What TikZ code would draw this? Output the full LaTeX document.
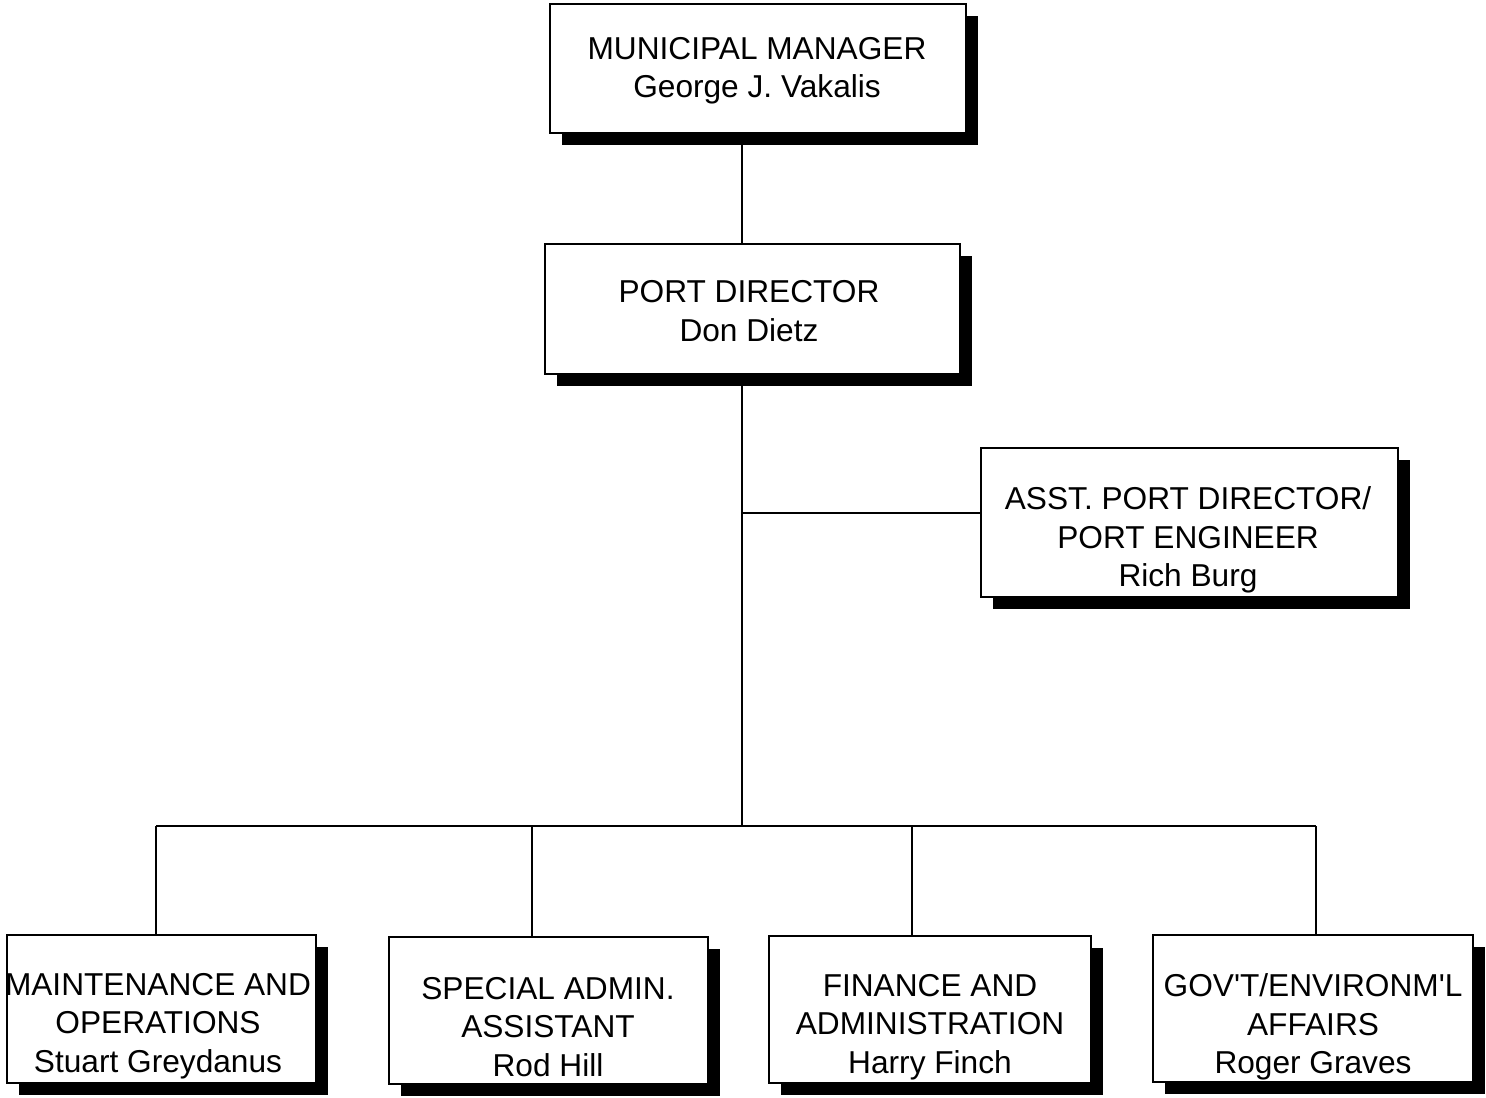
\documentclass[tikz,border=0pt]{standalone}
\usepackage{fontspec}
\setmainfont{Liberation Sans}
\usetikzlibrary{shadows}
\begin{document}
\begin{tikzpicture}[x=0.01cm,y=-0.01cm,
  orgbox/.style={draw=black, fill=white, line width=0.7pt, rectangle, inner sep=0pt,
    drop shadow={shadow xshift=0.12cm, shadow yshift=-0.12cm, opacity=1, fill=black}},
  orgtext/.style={align=center, inner sep=0pt, font=\fontsize{9pt}{10.9pt}\selectfont},
  link/.style={draw=black, line width=0.6pt}]
\useasboundingbox[fill=white] (0,0) rectangle (1486,1097);

% boxes
\node[orgbox, minimum width=4.16cm, minimum height=1.29cm] (mm) at (758,68.5) {};
\node[orgbox, minimum width=4.15cm, minimum height=1.30cm] (pd) at (752.5,309) {};
\node[orgbox, minimum width=4.17cm, minimum height=1.49cm] (apd) at (1189.5,522.5) {};
\node[orgbox, minimum width=3.09cm, minimum height=1.48cm] (mo) at (161.5,1009) {};
\node[orgbox, minimum width=3.19cm, minimum height=1.47cm] (sa) at (548.5,1010.5) {};
\node[orgbox, minimum width=3.22cm, minimum height=1.47cm] (fa) at (930,1009.5) {};
\node[orgbox, minimum width=3.20cm, minimum height=1.47cm] (ga) at (1313,1008.5) {};

% texts
\node[orgtext] (mmT) at (757,71) {MUNICIPAL MANAGER\\George J. Vakalis};
\node[orgtext] (pdT) at (749,311) {PORT DIRECTOR\\Don Dietz};
\node[orgtext] (apdT) at (1188,540) {ASST. PORT DIRECTOR/\\PORT ENGINEER\\Rich Burg};
\node[orgtext] (moT) at (158,1026) {MAINTENANCE AND\\OPERATIONS\\Stuart Greydanus};
\node[orgtext] (saT) at (548,1027) {SPECIAL ADMIN.\\ASSISTANT\\Rod Hill};
\node[orgtext] (faT) at (930,1027) {FINANCE AND\\ADMINISTRATION\\Harry Finch};
\node[orgtext] (gaT) at (1313,1027) {GOV\textquotesingle T/ENVIRONM\textquotesingle L\\AFFAIRS\\Roger Graves};

% connector coordinates
\coordinate (trunk) at (742,0);
\coordinate (tee) at (742,513);
\coordinate (bus) at (742,826);
\coordinate (d1) at (156,826);
\coordinate (d2) at (532,826);
\coordinate (d3) at (912,826);
\coordinate (d4) at (1316,826);

% connectors
\draw[link] (mm.south -| trunk) -- (pd.north -| trunk);
\draw[link] (pd.south -| trunk) -- (bus);
\draw[link] (tee) -- (tee -| apd.west);
\draw[link] (d1) -- (d4);
\draw[link] (d1) -- (d1 |- mo.north);
\draw[link] (d2) -- (d2 |- sa.north);
\draw[link] (d3) -- (d3 |- fa.north);
\draw[link] (d4) -- (d4 |- ga.north);
\end{tikzpicture}
\end{document}
